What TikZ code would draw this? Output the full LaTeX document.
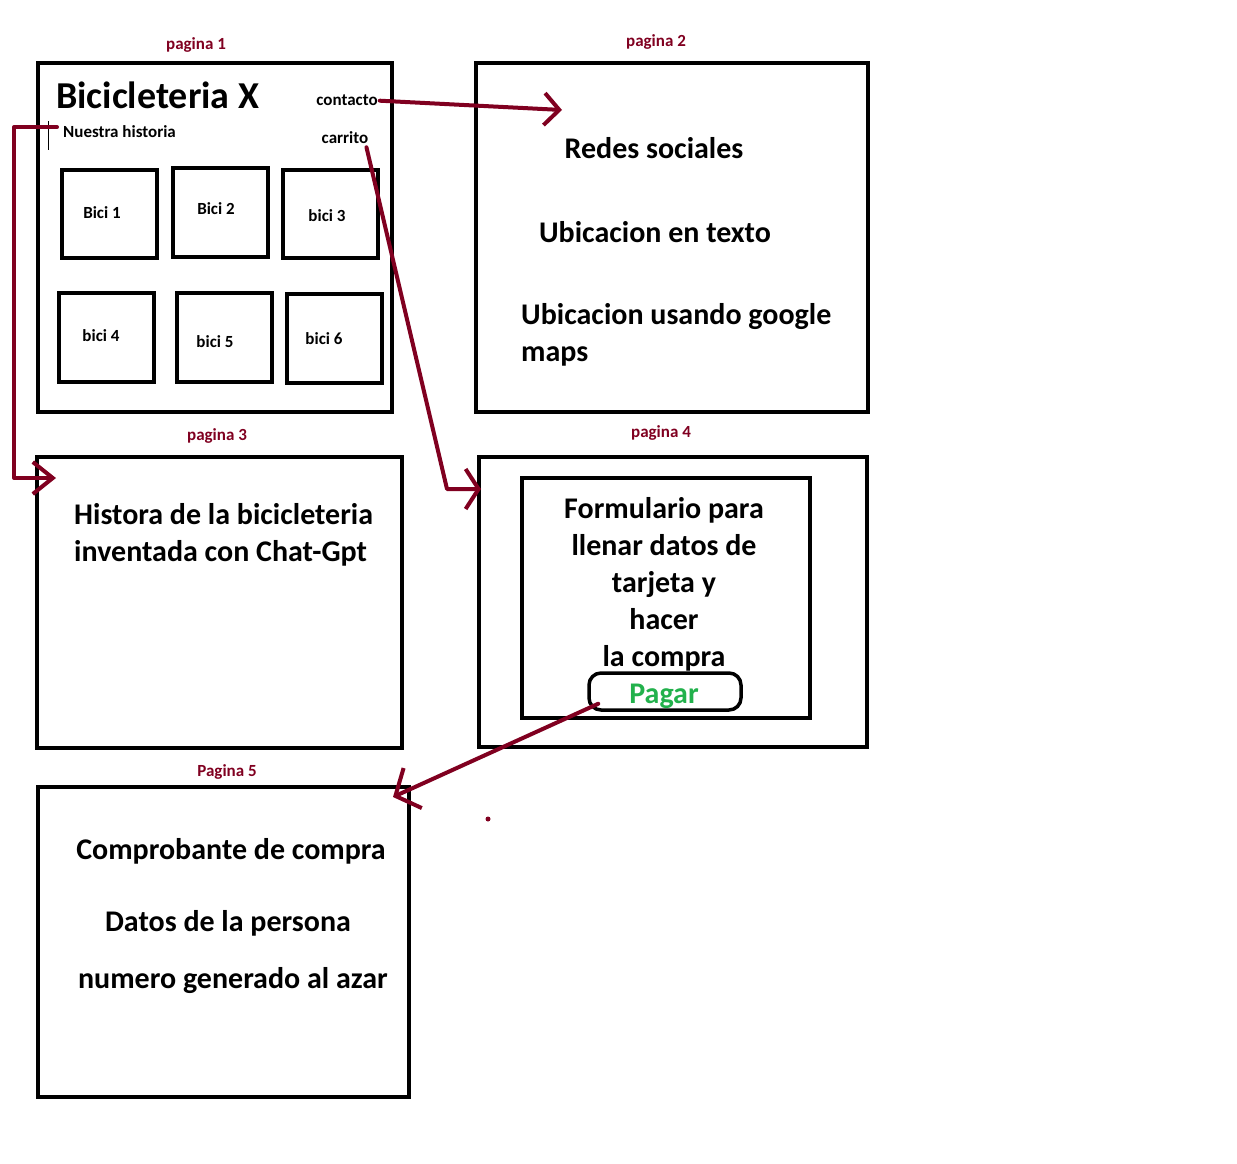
\documentclass[tikz,border=0pt]{standalone}
\usepackage{fontspec}
\setmainfont{Carlito}
\usetikzlibrary{arrows.meta}
\definecolor{vino}{RGB}{128,0,32}
\definecolor{verde}{RGB}{34,177,76}

\begin{document}
\begin{tikzpicture}[x=1pt,y=-1pt,
		page/.style={draw,line width=4pt,anchor=north west,inner sep=0pt,outer sep=0pt},
		bici/.style={draw,line width=3.5pt,anchor=north west,inner sep=0pt,outer sep=0pt,minimum width=95pt},
		small/.style={font=\bfseries\fontsize{17}{20}\selectfont,inner sep=0pt},
		big/.style={font=\bfseries\fontsize{30}{37}\selectfont,inner sep=0pt},
		pag/.style={small,text=vino,anchor=base},
		link/.style={vino,line width=4pt,line cap=round,line join=round}
		]
		\useasboundingbox (0,0) rectangle (1237,1164);
		% paginas
		\node[page,minimum width=354pt,minimum height=349pt] (pag1) at (38,63) {};
		\node[page,minimum width=392pt,minimum height=349pt] (pag2) at (476,63) {};
		\draw[line width=2pt] (869,63) -- (869,412);
		\node[page,minimum width=365pt,minimum height=291pt] (pag3) at (37,457) {};
		\node[page,minimum width=388pt,minimum height=290pt] (pag4) at (479,457) {};
		\node[page,minimum width=371pt,minimum height=310pt] (pag5) at (38,787) {};
		\node[pag] (t1) at (196,49) {pagina 1};
		\node[pag] (t2) at (656,47) {pagina 2};
		\node[pag] (t3) at (217,440) {pagina 3};
		\node[pag] (t4) at (661,437) {pagina 4};
		\node[pag] (t5) at (227,776) {Pagina 5};
		% pagina 1
		\node[font=\bfseries\fontsize{38}{44}\selectfont,inner sep=0pt,anchor=base west] (titulo) at (56,108) {Bicicleteria X};
		\node[small,anchor=base] (contacto) at (347,106) {contacto};
		\node[small,anchor=base west] (historia) at (63,137) {Nuestra historia};
		\node[small,anchor=base] (carrito) at (345,143) {carrito};
		\draw[thin] (48,121) -- (48,150);
		\node[bici,minimum height=88pt] (b1) at (62,170) {};
		\node[bici,minimum height=89pt] (b2) at (173,168) {};
		\node[bici,minimum height=88pt] (b3) at (283,170) {};
		\node[bici,minimum height=89pt] (b4) at (59,293) {};
		\node[bici,minimum height=89pt] (b5) at (177,293) {};
		\node[bici,minimum height=89pt] (b6) at (287,294) {};
		\node[small,anchor=base] at (102,218) {Bici 1};
		\node[small,anchor=base] at (216,214) {Bici 2};
		\node[small,anchor=base] at (327,221) {bici 3};
		\node[small,anchor=base] at (101,341) {bici 4};
		\node[small,anchor=base] at (215,347) {bici 5};
		\node[small,anchor=base] at (324,344) {bici 6};
		% pagina 2
		\node[big,anchor=base] (redes) at (654,158) {Redes sociales};
		\node[big,anchor=base] (texto) at (655,242) {Ubicacion en texto};
		\node[big,anchor=base west] (google) at (521,324) {Ubicacion usando google};
		\node[big,anchor=base west] (maps) at (521,361) {maps};
		% pagina 3
		\node[big,anchor=base west] (hist1) at (74,524) {Histora de la bicicleteria};
		\node[big,anchor=base west] (hist2) at (74,561) {inventada con Chat-Gpt};
		% pagina 4
		\node[page,line width=3.5pt,minimum width=288pt,minimum height=240pt] (form) at (522,478) {};
		\foreach \t [count=\i] in {Formulario para,llenar datos de,tarjeta y,hacer,la compra}
			\node[big,anchor=base] (f\i) at (664,481+37*\i) {\t};
		\node[draw,line width=3.5pt,rounded corners=12pt,minimum width=152pt,minimum height=37pt] (boton) at (665,691.5) {};
		\node[big,anchor=base,text=verde] (pagar) at (664,703) {Pagar};
		% pagina 5
		\node[big,anchor=base] (comp) at (231,859) {Comprobante de compra};
		\node[big,anchor=base] (datos) at (228,931) {Datos de la persona};
		\node[big,anchor=base] (numero) at (233,988) {numero generado al azar};
		% enlaces
		\coordinate (a2) at (562,110);
		\coordinate (a3) at (56,478);
		\coordinate (a4) at (481,489);
		\coordinate (a5) at (393,797);
		\draw[link,-{Straight Barb[length=15pt,width=32pt]}] (contacto.east) ++(2,0) -- (a2);
		\draw[link,-{Straight Barb[length=20pt,width=32pt]}] (historia.west) ++(-6,-4) -| (14,478) -- (a3);
		\draw[link,-{Straight Barb[length=13pt,width=40pt]}] (carrito.south east) ++(-2,4) -- (447,489) -- (a4);
		\draw[link,-{Straight Barb[length=19pt,width=44pt]}] (boton.south west) ++(11,-8) -- (a5);
		\fill[vino] (488,819) circle (2.5pt);
\end{tikzpicture}
\end{document}
